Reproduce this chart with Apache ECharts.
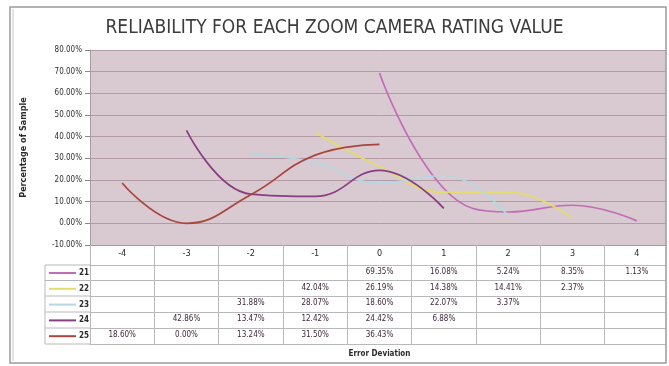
<!DOCTYPE html>
<html>
<head>
<meta charset="utf-8">
<script src="https://cdn.jsdelivr.net/npm/echarts@6/dist/echarts.min.js"></script>
<style>
  html, body { margin: 0; padding: 0; background: #ffffff; }
  #chart { width: 669px; height: 366px; }
</style>
</head>
<body>
<div id="chart"></div>
<script>
// Error deviation categories and the share of sample (%) for each zoom camera rating
const categories = ['-4', '-3', '-2', '-1', '0', '1', '2', '3', '4'];
const seriesNames = ['21', '22', '23', '24', '25'];
const r21 = [null, null, null, null, 69.35, 16.08, 5.24, 8.35, 1.13];
const r22 = [null, null, null, 42.04, 26.19, 14.38, 14.41, 2.37, null];
const r23 = [null, null, 31.88, 28.07, 18.60, 22.07, 3.37, null, null];
const r24 = [null, 42.86, 13.47, 12.42, 24.42, 6.88, null, null, null];
const r25 = [18.60, 0.00, 13.24, 31.50, 36.43, null, null, null, null];
const rows = [r21, r22, r23, r24, r25];
const yTicks = { min: -10, max: 80, step: 10 };

const colors = ['#c26cb8', '#e4dc6c', '#b4d8e4', '#883e80', '#a8463e'];
const font = 'Liberation Sans Narrow, DejaVu Sans Condensed, sans-serif';

// layout of the plot and the data table beneath it
const plotLeft = 90, plotTop = 50, plotBottomY = 245, plotWidth = 585;
const tableLeft = 45;
const rowLines = [265, 280.5, 296, 312, 328, 344];   // horizontal rules of the table

const chart = echarts.init(document.getElementById('chart'), null, { renderer: 'canvas' });

const fmt = v => (v == null ? '' : v.toFixed(2) + '%');

const xAxes = [{
  type: 'category',
  data: categories,
  gridIndex: 0,
  position: 'bottom',
  boundaryGap: true,
  axisLine: { show: true, onZero: false, lineStyle: { color: '#a0a0a0', width: 1 } },
  axisTick: { show: true, alignWithLabel: false, inside: false,
              length: rowLines[rowLines.length - 1] - plotBottomY,
              lineStyle: { color: '#b8b8b8', width: 1 } },
  axisLabel: { show: true, interval: 0, fontSize: 9, color: '#2a2a2a', margin: 4, fontFamily: font },
  splitLine: { show: false }
}];

rows.forEach((row, i) => {
  xAxes.push({
    type: 'category',
    data: categories,
    gridIndex: 0,
    position: 'bottom',
    offset: rowLines[i] - plotBottomY,
    axisLine: { show: true, onZero: false, lineStyle: { color: '#b8b8b8', width: 1 } },
    axisTick: { show: false },
    axisLabel: {
      show: true, interval: 0, fontSize: 8, color: '#3e2838', margin: 3, fontFamily: font,
      formatter: (value, idx) => fmt(row[idx])
    },
    splitLine: { show: false }
  });
});

xAxes.push({
  type: 'category',
  data: categories,
  gridIndex: 0,
  position: 'bottom',
  offset: rowLines[rowLines.length - 1] - plotBottomY,
  axisLine: { show: true, onZero: false, lineStyle: { color: '#b8b8b8', width: 1 } },
  axisTick: { show: false },
  axisLabel: { show: false },
  splitLine: { show: false },
  name: 'Error Deviation',
  nameLocation: 'middle',
  nameGap: 6,
  nameTextStyle: { fontSize: 8, fontWeight: 'bold', color: '#2a2a2a', fontFamily: font }
});

// table rules in the row-header column, to the left of the plot
const headerLines = rowLines.map(y => ({
  type: 'line',
  shape: { x1: tableLeft, y1: y, x2: plotLeft, y2: y },
  style: { stroke: '#b8b8b8', lineWidth: 1 },
  silent: true
}));
headerLines.push({
  type: 'line',
  shape: { x1: tableLeft, y1: rowLines[0], x2: tableLeft, y2: rowLines[rowLines.length - 1] },
  style: { stroke: '#b8b8b8', lineWidth: 1 },
  silent: true
});

const option = {
  backgroundColor: '#ffffff',
  animation: false,
  title: {
    text: 'RELIABILITY FOR EACH ZOOM CAMERA RATING VALUE',
    left: 'center',
    top: 14,
    textStyle: { fontSize: 19, fontWeight: 'normal', color: '#3c3c3c', fontFamily: font }
  },
  legend: {
    data: seriesNames,
    orient: 'vertical',
    left: tableLeft + 3,
    top: rowLines[0] + 4,
    itemWidth: 27,
    itemHeight: 8,
    itemGap: 7.8,
    padding: 0,
    selectedMode: false,
    itemStyle: { opacity: 0 },
    textStyle: { fontSize: 8, fontWeight: 'bold', color: '#2a2a2a', padding: [0, 0, 0, -2], fontFamily: font }
  },
  grid: {
    left: plotLeft,
    top: plotTop,
    width: plotWidth,
    height: plotBottomY - plotTop,
    show: true,
    backgroundColor: '#d9c9d0',
    borderWidth: 0,
    containLabel: false
  },
  xAxis: xAxes,
  yAxis: {
    type: 'value',
    min: yTicks.min,
    max: yTicks.max,
    interval: yTicks.step,
    axisLine: { show: true, lineStyle: { color: '#a0a0a0' } },
    axisTick: { show: true, length: 5, inside: false, lineStyle: { color: '#888' } },
    axisLabel: { fontSize: 8, color: '#2e2e2e', margin: 8, fontFamily: font,
                 formatter: v => v.toFixed(2) + '%' },
    splitLine: { show: true, lineStyle: { color: '#b39aa5', width: 1 } },
    name: 'Percentage of Sample',
    nameLocation: 'middle',
    nameGap: 62,
    nameTextStyle: { fontSize: 9, fontWeight: 'bold', color: '#2a2a2a', fontFamily: font }
  },
  series: rows.map((row, i) => ({
    name: seriesNames[i],
    type: 'line',
    xAxisIndex: 0,
    yAxisIndex: 0,
    data: row,
    smooth: 0.45,
    symbol: 'none',
    connectNulls: false,
    lineStyle: { color: colors[i], width: 1.7 },
    itemStyle: { color: colors[i] },
    z: 3
  })),
  graphic: headerLines.concat([
    {
      type: 'rect',
      shape: { x: 666, y: 0, width: 3, height: 366 },
      style: { fill: '#ffffff' },
      z: 90, silent: true
    },
    {
      type: 'rect',
      shape: { x: 10, y: 7, width: 656, height: 356 },
      style: { fill: 'none', stroke: '#9c9c9c', lineWidth: 1.5 },
      z: 100, silent: true
    },
    {
      type: 'line',
      shape: { x1: 13, y1: 9, x2: 13, y2: 361 },
      style: { stroke: '#c4c4c4', lineWidth: 1 },
      z: 100, silent: true
    }
  ])
};

chart.setOption(option);
</script>
</body>
</html>
